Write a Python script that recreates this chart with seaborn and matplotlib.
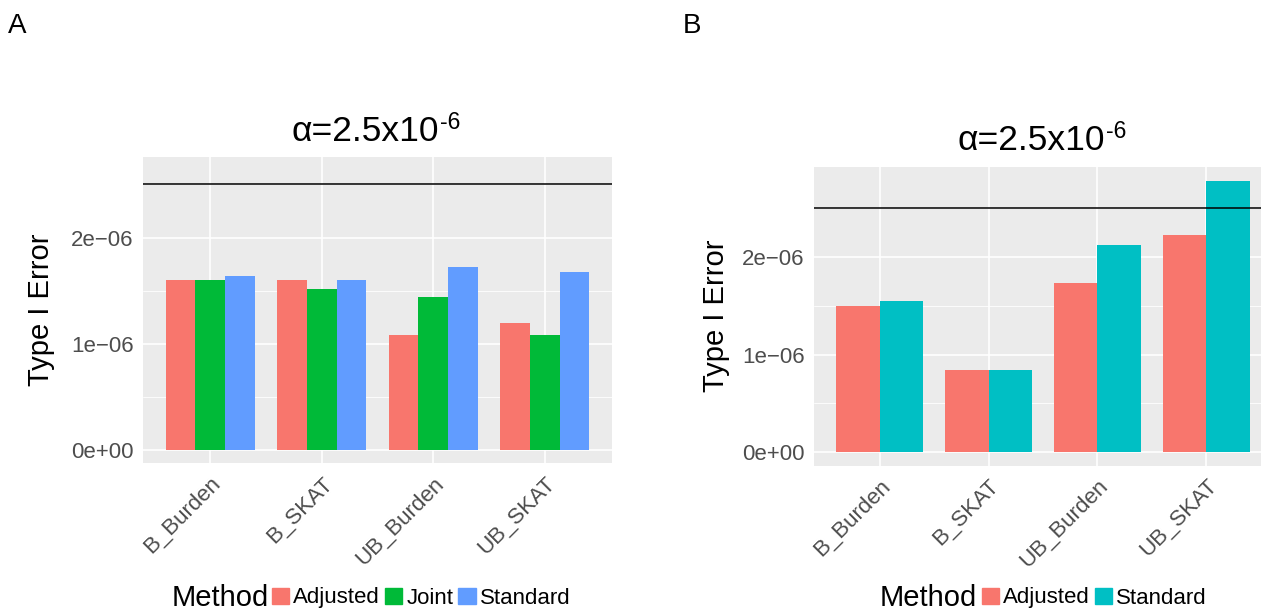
import numpy as np
import pandas as pd
import matplotlib
matplotlib.use('Agg')
import matplotlib.pyplot as plt
from matplotlib.patches import Patch
import seaborn as sns

# values (Type I error)
tests = ['B_Burden', 'B_SKAT', 'UB_Burden', 'UB_SKAT']
a_adjusted = [1.60e-6, 1.60e-6, 1.08e-6, 1.20e-6]
a_joint = [1.60e-6, 1.52e-6, 1.44e-6, 1.08e-6]
a_standard = [1.64e-6, 1.60e-6, 1.72e-6, 1.68e-6]
b_adjusted = [1.50e-6, 0.84e-6, 1.73e-6, 2.23e-6]
b_standard = [1.55e-6, 0.84e-6, 2.12e-6, 2.78e-6]
alpha = 2.5e-6
ytick_vals = [0, 1e-6, 2e-6]
ytick_labels = ['0e+00', '1e\u221206', '2e\u221206']

colors = {'Adjusted': '#F8766D', 'Joint': '#00BA38', 'Standard': '#619CFF'}
colors_b = {'Adjusted': '#F8766D', 'Standard': '#00BFC4'}

sns.set_style('white')
plt.rcParams['font.family'] = ['Liberation Sans', 'DejaVu Sans']
plt.rcParams['text.color'] = 'black'

dfa = pd.DataFrame({'Test': tests * 3,
                    'Method': ['Adjusted'] * 4 + ['Joint'] * 4 + ['Standard'] * 4,
                    'Error': a_adjusted + a_joint + a_standard})
dfb = pd.DataFrame({'Test': tests * 2,
                    'Method': ['Adjusted'] * 4 + ['Standard'] * 4,
                    'Error': b_adjusted + b_standard})

W, H = 1261, 611
fig = plt.figure(figsize=(W / 100, H / 100), dpi=100)


def px(x0, y0, x1, y1):
    return [x0 / W, 1 - y1 / H, (x1 - x0) / W, (y1 - y0) / H]


def style(ax, ylim):
    ax.set_facecolor('#EBEBEB')
    for s in ax.spines.values():
        s.set_visible(False)
    ax.set_xlim(-0.6, 3.6)
    ax.set_ylim(*ylim)
    ax.set_yticks(ytick_vals)
    ax.set_yticklabels(ytick_labels)
    ax.set_yticks([0.5e-6, 1.5e-6, 2.5e-6], minor=True)
    ax.grid(True, which='major', color='white', linewidth=1.2)
    ax.grid(True, which='minor', axis='y', color='white', linewidth=0.6)
    ax.set_axisbelow(True)
    ax.tick_params(axis='both', which='major', direction='out', length=4, width=0.8,
                   color='#333333', labelcolor='#4D4D4D', labelsize=16, pad=3)
    ax.tick_params(which='minor', length=0)
    plt.setp(ax.get_xticklabels(), rotation=45, ha='right', rotation_mode='anchor')
    ax.set_xlabel('')
    ax.set_ylabel('')
    ax.axhline(alpha, color='black', linewidth=1.1, zorder=3)


# panel A
ax1 = fig.add_axes(px(143.3, 157.3, 611.7, 463.3))
sns.barplot(data=dfa, x='Test', y='Error', hue='Method', palette=colors,
            width=0.8, saturation=1, linewidth=0, ax=ax1, legend=False)
style(ax1, (-0.125e-6, 2.756e-6))

# panel B
ax2 = fig.add_axes(px(814.3, 167.3, 1271.7, 465.7))
sns.barplot(data=dfb, x='Test', y='Error', hue='Method', palette=colors_b,
            width=0.8, saturation=1, linewidth=0, ax=ax2, legend=False)
style(ax2, (-0.139e-6, 2.92e-6))

# titles: main part plus raised "-6"
for xr, yb in [(439, 141), (1105, 150)]:
    fig.text(xr / W, 1 - yb / H, '\u03b1=2.5x10', ha='right', va='baseline', fontsize=25.5)
    fig.text((xr + 1) / W, 1 - (yb - 12) / H, '-6', ha='left', va='baseline', fontsize=16.5)

fig.text(41 / W, 1 - 310 / H, 'Type I Error', rotation=90, ha='center', va='center', fontsize=21)
fig.text(716 / W, 1 - 316 / H, 'Type I Error', rotation=90, ha='center', va='center', fontsize=21)

fig.text(8 / W, 1 - 33 / H, 'A', fontsize=20, va='baseline')
fig.text(683 / W, 1 - 33 / H, 'B', fontsize=20, va='baseline')

# legends
fig.text(172 / W, 1 - 606 / H, 'Method', fontsize=21, va='baseline')
fig.text(880 / W, 1 - 606 / H, 'Method', fontsize=21, va='baseline')

h_a = [Patch(color=c, label=m) for m, c in colors.items()]
h_b = [Patch(color=c, label=m) for m, c in colors_b.items()]
leg_kw = dict(ncol=3, loc='center left', frameon=False, fontsize=16,
              handlelength=0.78, handleheight=0.7, handletextpad=0.18,
              columnspacing=0.22, borderpad=0, borderaxespad=0,
              bbox_transform=fig.transFigure, labelcolor='black')
fig.legend(handles=h_a, bbox_to_anchor=(272 / W, 1 - 598 / H), **leg_kw)
fig.legend(handles=h_b, bbox_to_anchor=(982 / W, 1 - 598 / H), **leg_kw)

fig.savefig('out.png', dpi=100)
